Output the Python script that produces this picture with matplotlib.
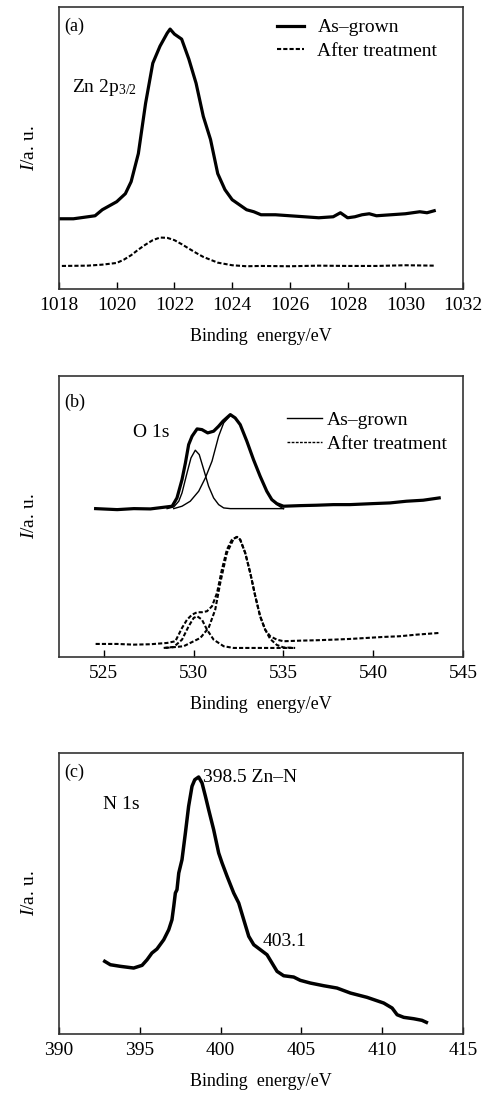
import numpy as np
import matplotlib.pyplot as plt

plt.rcParams['font.family'] = ['Liberation Serif', 'DejaVu Serif']
plt.rcParams['mathtext.fontset'] = 'custom'
plt.rcParams['mathtext.rm'] = 'Liberation Serif'
plt.rcParams['mathtext.it'] = 'Liberation Serif:italic'
plt.rcParams['font.size'] = 14

# (a) Zn 2p3/2
zn_x = [1018.0, 1018.5, 1018.75, 1019.0, 1019.25, 1019.5, 1019.75, 1020.0, 1020.3, 1020.5,
        1020.75, 1021.0, 1021.25, 1021.5, 1021.75, 1021.85, 1022.0, 1022.25, 1022.5, 1022.75,
        1023.0, 1023.25, 1023.5, 1023.75, 1024.0, 1024.25, 1024.5, 1024.75, 1025.0, 1025.5,
        1026.0, 1026.5, 1027.0, 1027.5, 1027.75, 1028.0, 1028.25, 1028.5, 1028.75, 1029.0,
        1029.5, 1030.0, 1030.25, 1030.5, 1030.75, 1031.0]
zn_grown = [70, 70, 71, 72, 73, 79, 83, 87, 95, 107,
            135, 185, 225, 242, 255, 259, 254, 249, 229, 205,
            172, 149, 115, 99, 89, 84, 79, 77, 74, 74,
            73, 72, 71, 72, 76, 71, 72, 74, 75, 73,
            74, 75, 76, 77, 76, 78]
zn_tx = [1018.1, 1019.0, 1019.5, 1020.0, 1020.25, 1020.5, 1020.75, 1021.0, 1021.25, 1021.5,
         1021.75, 1022.0, 1022.25, 1022.5, 1022.75, 1023.0, 1023.5, 1024.0, 1024.5, 1025.0,
         1026.0, 1027.0, 1028.0, 1029.0, 1030.0, 1031.0]
zn_treated = [23, 23.3, 24.3, 26, 29.3, 33.7, 39.3, 44.3, 48.7, 51.3,
              51, 48.7, 44.7, 40.3, 36, 32, 26.3, 23.7, 22.7, 23,
              22.7, 23.3, 23, 23, 23.7, 23.3]

# (b) O 1s, as-grown
o_x = [524.54, 525.74, 526.67, 527.59, 528.80, 529.07, 529.35, 529.54, 529.72, 529.91,
       530.19, 530.46, 530.78, 531.11, 531.39, 531.63, 532.04, 532.31, 532.59, 532.96,
       533.33, 533.70, 534.07, 534.35, 534.63, 535.00, 535.93, 536.85, 537.78, 538.70,
       539.96, 540.93, 541.85, 542.78, 543.67]
o_grown = [148.3, 147.3, 148.3, 148, 150.7, 159, 177.3, 194, 212.3, 220.7,
           228, 227.3, 224, 225.7, 230.7, 235.7, 242.3, 239, 232.3, 215.7,
           197.3, 180.7, 165.7, 157.3, 153.3, 150.7, 151.3, 151.7, 152.3, 152.3,
           153.3, 154, 155.7, 156.7, 159]
o_g1_x = [528.52, 528.89, 529.17, 529.35, 529.63, 529.85, 530.09, 530.31, 530.56, 530.83,
          531.11, 531.39, 531.67, 532.04, 535.00]
o_g1 = [148.3, 150, 155.7, 164, 184, 199, 206.7, 202.3, 187.3, 170.7,
        159, 152.3, 149, 148.3, 148.3]
o_g2_x = [528.89, 529.35, 529.81, 530.28, 530.65, 531.02, 531.39, 531.67, 532.04, 532.31,
          532.59, 532.96, 533.33, 533.70, 534.07, 534.35, 534.63, 534.91, 535.00]
o_g2 = [148.3, 150.7, 155.7, 165.7, 179, 195.7, 220.7, 234, 241.3, 239,
        232.3, 215.7, 197.3, 180.7, 165.7, 157.3, 152.3, 149, 148.3]

# (b) O 1s, after treatment
o_tx = [524.54, 525.74, 526.67, 527.59, 528.52, 528.98, 529.35, 529.63, 529.91, 530.19,
        530.46, 530.74, 531.02, 531.30, 531.57, 531.85, 532.13, 532.41, 532.59, 532.87,
        533.15, 533.43, 533.70, 533.98, 534.26, 534.63, 535.00, 535.93, 536.85, 537.78,
        538.70, 539.63, 540.56, 541.48, 542.41, 543.67]
o_treated = [13, 13, 12.3, 12.7, 14, 15.7, 29, 37.3, 42.3, 44.7,
             44.7, 45.7, 50.7, 64, 87.3, 107.3, 117.3, 120, 117.3, 104,
             84, 60.7, 40.7, 27.3, 20.7, 17.3, 15.7, 16.3, 16.7, 17.3,
             18, 19, 20, 20.7, 22.3, 24]
o_t1_x = [528.33, 528.89, 529.35, 529.72, 530.0, 530.19, 530.46, 530.74, 531.11, 531.67,
          532.22, 535.65]
o_t1 = [9, 10, 17.3, 30.7, 39, 40.7, 37.3, 27.3, 17.3, 10.7, 9, 9]
o_t2_x = [528.43, 529.44, 530.37, 530.83, 531.20, 531.48, 531.85, 532.22, 532.41, 532.59,
          532.87, 533.15, 533.43, 533.70, 533.98, 534.26, 534.63, 535.0, 535.65]
o_t2 = [9, 10.7, 19, 29, 47.3, 74, 104, 118, 120, 117.3,
        104, 84, 60.7, 40.7, 27.3, 18, 12, 9.5, 9]

# (c) N 1s
n_x = [392.83, 393.18, 393.80, 394.62, 395.14, 395.45, 395.75, 396.06, 396.48, 396.79,
       396.99, 397.10, 397.20, 397.30, 397.41, 397.61, 397.82, 398.02, 398.23, 398.40,
       398.64, 398.85, 399.06, 399.26, 399.57, 399.88, 400.09, 400.40, 400.81, 401.12,
       401.43, 401.74, 402.05, 402.46, 402.87, 403.18, 403.49, 403.90, 404.52, 404.93,
       405.55, 406.38, 407.20, 408.03, 409.06, 410.09, 410.61, 410.92, 411.33, 411.95,
       412.46, 412.73]
n_y = [72.7, 69.3, 67.7, 66, 68.7, 74.3, 81, 85, 94.3, 104.3,
       114.3, 127.7, 141, 144.3, 161, 174.3, 201, 227.7, 247.7, 254.3,
       257, 251, 237.7, 224.3, 204.3, 181, 171, 157.7, 141, 131,
       114.3, 97.7, 89.3, 84.3, 79.3, 71, 62.7, 58.3, 57, 53.7,
       51, 48.3, 46, 41, 36.7, 31, 26, 19.3, 16.7, 15.3,
       13.7, 11.7]

fig = plt.figure(figsize=(4.94, 10.94), dpi=100)
ax1 = fig.add_axes([0.1194, 0.7358, 0.818, 0.2578])
ax2 = fig.add_axes([0.1194, 0.3995, 0.818, 0.2569])
ax3 = fig.add_axes([0.1194, 0.0548, 0.818, 0.2569])

for ax in (ax1, ax2, ax3):
    ax.set_ylim(0, 281)
    ax.set_yticks([])
    ax.tick_params(axis='x', direction='in', length=5, width=1, top=False, pad=6,
                   labelsize=14)
    for s in ax.spines.values():
        s.set_linewidth(1.2)
        s.set_color('#333333')
    ax.set_ylabel(r'$I$/a. u.', fontsize=14, labelpad=15)
    ax.set_xlabel('Binding  energy/eV', fontsize=13, labelpad=10)

# panel a
ax1.plot(zn_x, zn_grown, color='black', lw=2.3, label='As\u2013grown')
ax1.plot(zn_tx, zn_treated, color='black', lw=1.5, ls=(0, (2, 1)), label='After treatment')
ax1.set_xlim(1018, 1032)
ax1.set_xticks([1018, 1020, 1022, 1024, 1026, 1028, 1030, 1032])
ax1.text(0.012, 0.933, '(a)', transform=ax1.transAxes, va='center', fontsize=13)
ax1.text(0.032, 0.713, r'Zn 2p$_{3/2}$', transform=ax1.transAxes, va='center', fontsize=14)
ax1.legend(loc='upper right', bbox_to_anchor=(0.98, 1.02), frameon=False, fontsize=14,
           handlelength=1.4, handletextpad=0.7, labelspacing=0.3)

# panel b
ax2.plot(o_x, o_grown, color='black', lw=2.3, label='As\u2013grown')
ax2.plot(o_g1_x, o_g1, color='black', lw=1.0)
ax2.plot(o_g2_x, o_g2, color='black', lw=1.0)
ax2.plot(o_tx, o_treated, color='black', lw=1.5, ls=(0, (2, 1)), label='After treatment')
ax2.plot(o_t1_x, o_t1, color='black', lw=1.5, ls=(0, (2, 1)))
ax2.plot(o_t2_x, o_t2, color='black', lw=1.5, ls=(0, (2, 1)))
ax2.set_xlim(522.5, 545)
ax2.set_xticks([525, 530, 535, 540, 545])
ax2.text(0.012, 0.907, '(b)', transform=ax2.transAxes, va='center', fontsize=13)
ax2.text(526.6, 224, 'O 1s', va='center', fontsize=14)
h1, = ax2.plot([], [], color='black', lw=1.0)
h2, = ax2.plot([], [], color='black', lw=1.0, ls=(0, (2, 1)))
ax2.legend([h1, h2], ['As\u2013grown', 'After treatment'], loc='upper right',
           bbox_to_anchor=(1.003, 0.935), frameon=False, fontsize=14,
           handlelength=1.8, handletextpad=0.25, labelspacing=0.3)

# panel c
ax3.plot(n_x, n_y, color='black', lw=2.5)
ax3.set_xlim(390, 415)
ax3.set_xticks([390, 395, 400, 405, 410, 415])
ax3.text(0.012, 0.93, '(c)', transform=ax3.transAxes, va='center', fontsize=13)
ax3.text(0.108, 0.815, 'N 1s', transform=ax3.transAxes, va='center', fontsize=14)
ax3.text(398.9, 257, '398.5 Zn\u2013N', va='center', fontsize=14)
ax3.text(402.6, 93, '403.1', va='center', fontsize=14)

fig.savefig('out.png', dpi=100)
